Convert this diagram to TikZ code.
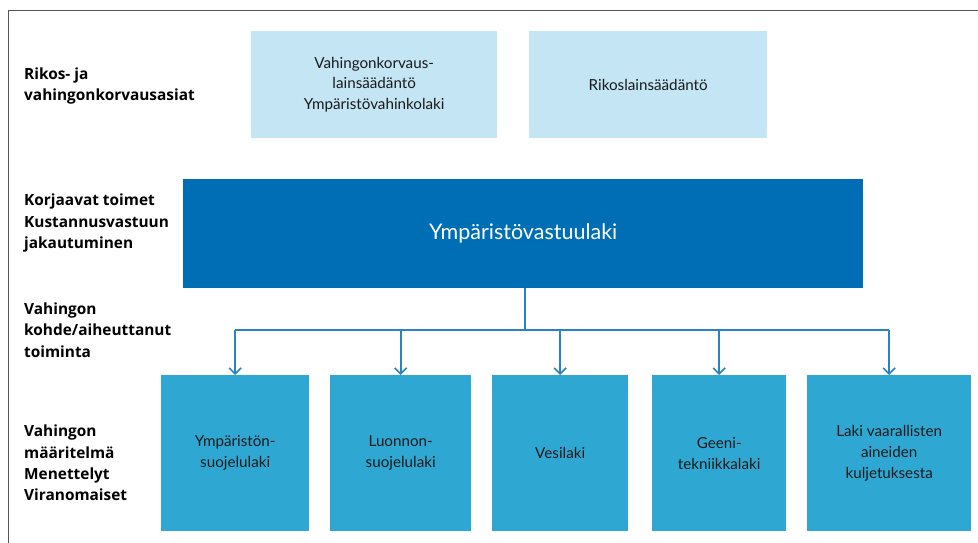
\documentclass[tikz,border=0pt]{standalone}
\usepackage{fontspec}
\setmainfont{Lato}
\newfontfamily\labelfont{Open Sans}
\usetikzlibrary{arrows.meta}
\definecolor{lightbox}{HTML}{C3E5F4}
\definecolor{darkbox}{HTML}{006EB4}
\definecolor{midbox}{HTML}{2EA8D2}
\definecolor{linkcol}{HTML}{2A82C4}
\definecolor{framecol}{HTML}{555555}
\definecolor{txt}{HTML}{1A1A1A}
\tikzset{
  lawbox/.style={rectangle, anchor=north west, inner sep=0pt, align=center, text=txt,
     font={\fontsize{15.2}{20.8}\selectfont}},
  lightlaw/.style={lawbox, fill=lightbox},
  midlaw/.style={lawbox, fill=midbox},
  sidelabel/.style={anchor=west, align=left, inner sep=0pt, text=black,
     font={\labelfont\bfseries\fontsize{15.4}{21.3}\selectfont}},
  linkline/.style={draw=linkcol, line width=1.6pt},
  linkarrow/.style={linkline, -{Straight Barb[length=6pt,width=12pt,line width=1.6pt]}},
}
\begin{document}
\begin{tikzpicture}[x=1pt,y=-1pt]
\useasboundingbox (0,0) rectangle (978,543);
\draw[framecol, line width=1pt] (8,543) -- (8,11) -- (978,11);

% side labels
\node[sidelabel] (l1) at (24,86) {Rikos- ja\\vahingonkorvausasiat};
\node[sidelabel] (l2) at (24,223) {Korjaavat toimet\\Kustannusvastuun\\jakautuminen};
\node[sidelabel] (l3) at (24,330) {Vahingon\\kohde/aiheuttanut\\toiminta};
\node[sidelabel] (l4) at (24,463) {Vahingon\\määritelmä\\Menettelyt\\Viranomaiset};

% top boxes
\node[lightlaw, minimum width=246pt, minimum height=107pt] (vk) at (251,31)
  {Vahingonkorvaus-\\lainsäädäntö\\Ympäristövahinkolaki};
\node[lightlaw, minimum width=238pt, minimum height=107pt] (rl) at (529,31)
  {Rikoslainsäädäntö};

% main box
\node[rectangle, anchor=north west, inner sep=0pt, fill=darkbox, text=white,
  minimum width=680pt, minimum height=109pt, font={\fontsize{21.5}{26}\selectfont}]
  (yv) at (183,179) {Ympäristövastuulaki};

% bottom boxes
\node[midlaw, minimum width=148pt, minimum height=156pt] (b1) at (161,375) {Ympäristön-\\suojelulaki};
\node[midlaw, minimum width=141pt, minimum height=156pt] (b2) at (330,375) {Luonnon-\\suojelulaki};
\node[midlaw, minimum width=136pt, minimum height=156pt] (b3) at (492,375) {Vesilaki};
\node[midlaw, minimum width=134pt, minimum height=156pt] (b4) at (652,375) {Geeni-\\tekniikkalaki};
\node[midlaw, minimum width=164pt, minimum height=156pt] (b5) at (807,375) {Laki vaarallisten\\aineiden\\kuljetuksesta};

% connectors
\coordinate (j) at (525,330);
\draw[linkline] (j |- yv.south) -- (j);
\draw[linkline] (b1.north |- j) -- (b5.north |- j);
\foreach \b in {b1,b2,b3,b4,b5}{
  \draw[linkarrow] (\b.north |- j) -- (\b.north);
}
\end{tikzpicture}
\end{document}
